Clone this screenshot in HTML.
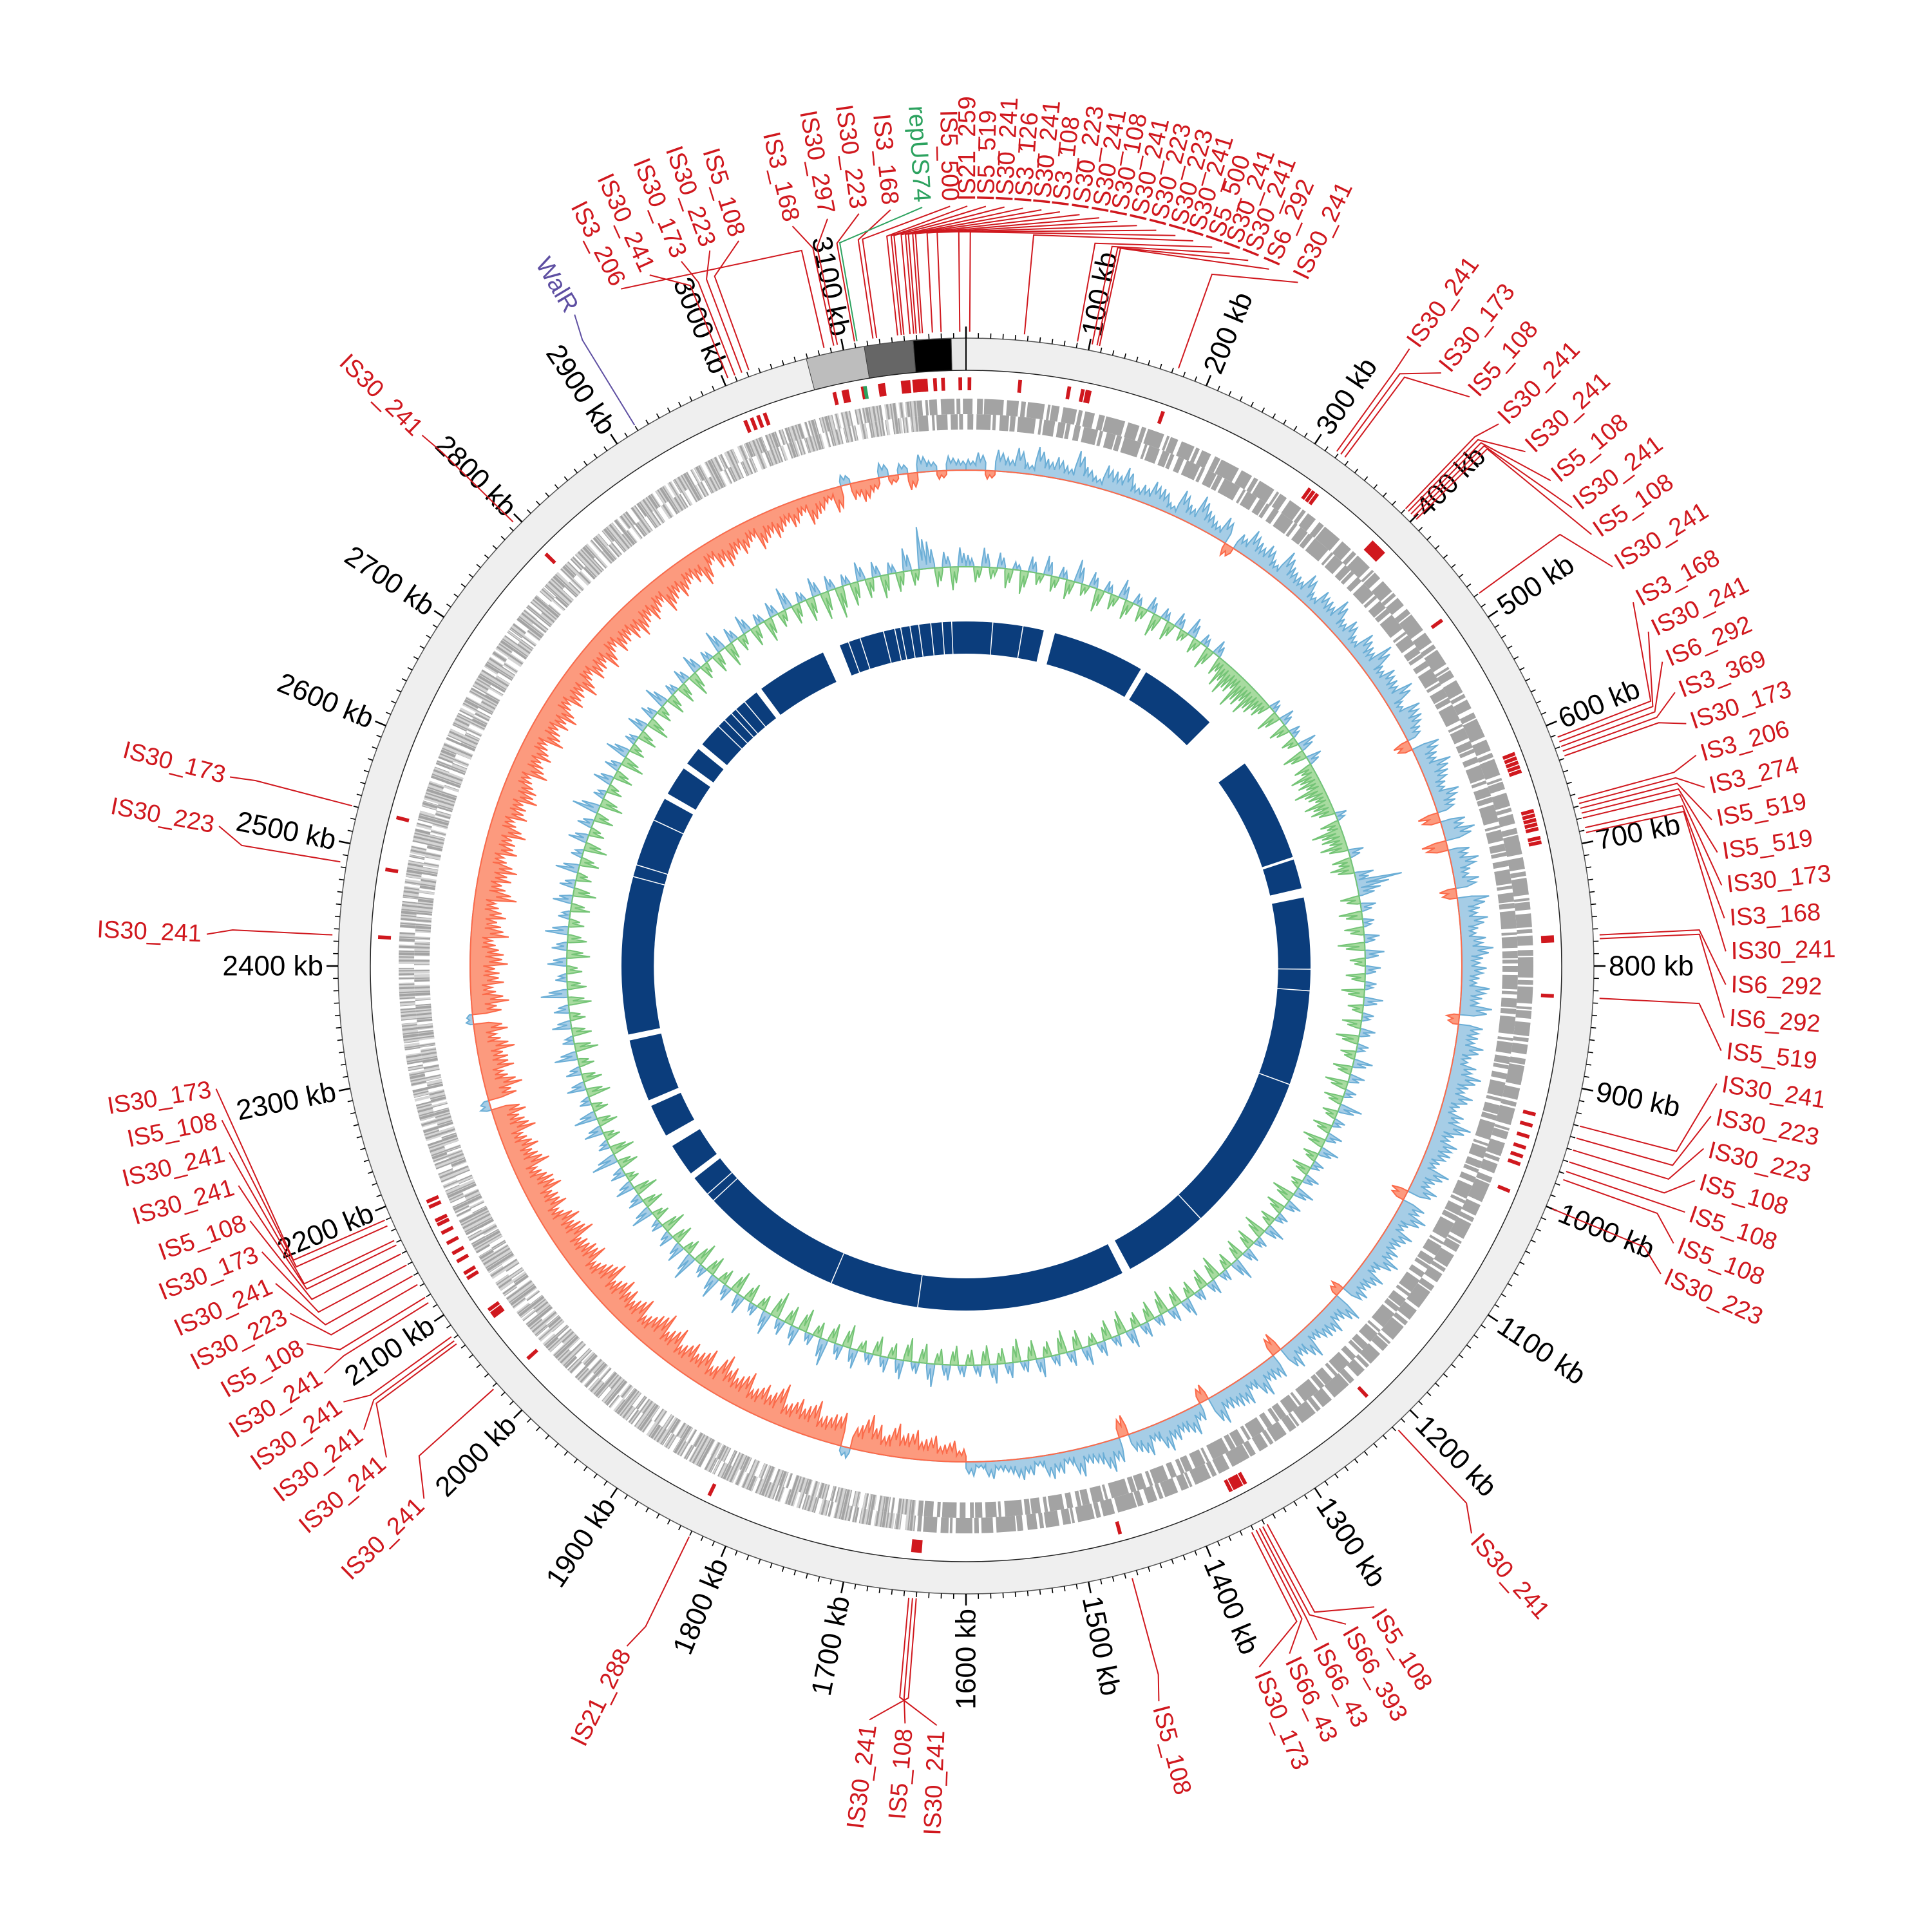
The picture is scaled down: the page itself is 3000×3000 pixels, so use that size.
<!DOCTYPE html>
<html><head><meta charset="utf-8"><title>Circular genome map</title>
<style>
html,body{margin:0;padding:0;background:#fff;}
svg{display:block;font-family:"Liberation Sans",Arial,sans-serif;}
</style></head>
<body>
<svg id="chart" xmlns="http://www.w3.org/2000/svg" width="3000" height="3000" viewBox="0 0 3000 3000">
<rect x="0" y="0" width="3000" height="3000" fill="#ffffff"/>
<g id="g-navy"></g>
<g id="g-gc"></g>
<g id="g-skew"></g>
<g id="g-cds"></g>
<g id="g-is"></g>
<g id="g-ring"></g>
<g id="g-ticks"></g>
<g id="g-labels"></g>
</svg>
<script>
// ---------------- data ----------------
const GENOME_KB = 3200;
const BIN_KB = 10;

const skewValues = [
0.3,0.5,-0.2,0.6,0.4,0.7,0.3,0.8,0.5,0.6,0.4,0.9,0.5,0.3,0.7,0.6,0.8,0.4,0.5,0.7,0.6,0.3,0.8,0.5,0.9,0.6,0.4,0.7,-0.3,0.5,0.8,0.6,0.7,0.4,0.9,0.6,0.5,0.8,0.4,0.7,
0.6,0.9,0.5,0.7,0.4,0.8,0.6,1.0,0.5,0.7,0.6,0.9,0.4,0.8,0.7,0.5,-0.4,0.8,0.6,0.9,0.7,0.5,0.8,0.6,-0.5,0.7,0.9,-0.6,0.6,0.8,0.5,0.7,-0.4,0.9,0.6,0.8,0.5,0.7,0.9,0.6,
0.7,0.5,0.8,0.6,0.9,-0.3,0.7,0.6,0.8,0.5,0.7,0.9,0.6,0.8,0.5,0.7,1.0,0.6,0.8,0.7,0.5,0.9,0.6,0.8,-0.4,0.7,0.9,0.5,0.8,0.6,0.7,0.9,0.5,0.8,0.6,0.7,-0.3,0.9,0.6,0.8,
0.7,0.5,0.9,0.6,0.8,-0.5,0.7,0.6,0.9,0.5,0.8,0.7,0.6,0.9,-0.4,0.5,0.8,0.6,0.7,0.9,0.5,0.8,0.6,-0.5,0.7,0.9,0.6,0.5,0.8,0.4,0.6,0.7,0.3,0.5,0.6,0.4,0.3,0.5,0.2,0.4,
-0.3,-0.5,-0.4,-0.6,-0.5,-0.7,-0.6,-0.8,-0.5,-0.7,-0.9,-0.6,0.3,-0.8,-0.7,-0.6,-0.9,-0.7,-0.8,-0.6,-1.0,-0.7,-0.8,-0.6,-0.9,-0.7,-0.8,-1.0,-0.6,-0.9,-0.7,-0.8,-0.6,-0.9,-0.7,-1.0,-0.8,-0.6,-0.9,-0.7,
-0.8,-0.9,-0.7,-1.0,-0.8,-0.6,-0.9,-0.8,-0.7,-1.0,-0.8,-0.9,-0.6,-0.8,-0.7,-0.9,-0.8,-0.6,-0.9,-0.7,-0.8,-0.6,-0.9,-0.7,-0.8,0.3,-0.7,-0.9,-0.6,-0.8,-0.7,-0.9,-0.6,-0.8,0.2,-0.7,-0.9,-0.6,-0.8,-0.7,
-0.9,-0.8,-0.6,-0.9,-0.7,-0.8,-0.6,-1.0,-0.7,-0.8,-0.9,-0.6,-0.8,-0.7,-0.9,-0.6,-0.8,-0.7,-0.9,-0.8,-0.6,-0.9,-0.7,-0.8,-0.6,-0.9,-0.7,-0.8,-0.9,-0.6,-0.8,-0.7,-0.9,-0.6,-0.8,-0.7,-0.9,-0.6,-0.8,-0.7,
-0.8,-0.9,-0.7,-0.8,-0.6,-0.9,-0.7,-0.8,-0.6,-0.7,-0.9,-0.5,-0.7,-0.8,-0.6,-0.7,-0.5,-0.8,-0.6,-0.7,-0.5,-0.6,-0.4,-0.7,-0.5,-0.3,-0.6,0.3,-0.4,-0.5,-0.3,0.4,-0.2,0.3,-0.4,0.5,0.3,-0.2,0.4,0.3
];

const gcValues = [
0.3,-0.4,0.5,-0.3,0.4,-0.5,0.2,-0.6,0.4,-0.3,0.5,-0.4,0.3,-0.5,0.6,-0.3,0.4,-0.6,0.3,-0.4,0.5,-0.5,0.3,-0.4,0.4,-0.6,0.3,-0.5,0.4,-0.3,0.5,-0.4,0.3,-0.6,0.4,-0.5,-0.7,-0.8,-0.6,-0.9,
-0.7,-0.8,-0.6,-0.5,0.3,-0.6,0.4,-0.5,0.3,-0.4,0.5,-0.6,0.4,-0.5,-0.7,-0.6,-0.8,-0.5,-0.7,-0.6,0.3,-0.5,-0.8,-0.6,-0.7,0.4,-0.5,-0.6,0.5,1.2,0.6,-0.5,0.4,-0.6,0.3,-0.5,0.4,-0.7,0.5,-0.4,
0.4,-0.5,0.3,-0.6,0.5,-0.4,0.3,-0.5,0.4,-0.6,0.3,-0.4,0.5,-0.5,0.4,-0.6,0.3,-0.5,0.6,-0.4,0.3,-0.5,0.4,-0.6,0.5,-0.4,0.3,-0.5,0.4,-0.3,0.5,-0.6,0.4,-0.5,0.3,-0.4,0.5,-0.6,0.3,-0.5,
0.4,-0.5,0.6,-0.4,0.3,-0.6,0.4,-0.5,0.3,-0.4,0.5,-0.5,0.4,-0.6,0.3,-0.5,0.4,-0.4,0.5,-0.6,0.3,-0.5,0.4,-0.3,0.5,-0.5,0.4,-0.6,0.3,-0.4,0.5,-0.5,0.3,-0.6,0.4,-0.4,0.5,-0.5,0.3,-0.4,
0.3,-0.5,0.4,-0.4,0.6,-0.5,0.3,-0.6,0.5,-0.4,0.4,-0.5,0.3,-0.3,0.5,-0.6,0.4,-0.5,0.7,-0.4,0.3,-0.6,0.5,-0.5,0.4,-0.7,0.6,-0.4,0.3,-0.5,0.5,-0.6,0.4,-0.4,0.6,-0.5,0.3,-0.6,0.7,-0.4,
0.5,-0.5,0.4,-0.6,0.3,-0.4,0.6,-0.5,0.4,-0.6,0.5,-0.3,0.4,-0.5,0.7,-0.6,0.3,-0.4,0.5,-0.5,0.6,-0.4,0.3,-0.6,0.5,-0.5,0.4,-0.4,0.6,-0.6,0.3,-0.5,0.5,-0.4,0.4,-0.6,0.7,-0.5,0.3,-0.4,
0.5,-0.6,0.4,-0.5,0.6,-0.4,0.3,-0.5,0.5,-0.6,0.4,-0.4,0.6,-0.5,0.3,-0.6,0.5,-0.4,0.4,-0.5,0.7,-0.6,0.3,-0.4,0.5,-0.5,0.4,-0.6,0.6,-0.4,0.3,-0.5,0.5,-0.6,0.4,-0.4,0.6,-0.5,0.3,-0.5,
0.4,-0.6,0.5,-0.4,0.3,-0.5,0.6,-0.6,0.4,-0.4,0.5,-0.5,0.3,-0.6,0.4,-0.4,0.6,-0.5,0.3,-0.6,0.5,-0.7,0.4,-0.8,0.3,-0.6,0.5,-0.5,0.4,-0.6,0.3,-0.5,0.6,-0.4,1.1,0.7,-0.5,0.4,-0.6,0.5
];

// homology track: gaps (kb start / end)
const gapStartKb = [116,271,400,636,684,1347,2062,2120,2187,2289,2658,2711,2747,2867,2982,
  39,84,804,836,978,1218,1671,1804,2018,2031,2533,2551,2622,2791,2804,2818,2827,2844,3022,3040,3076,3093,3102,3116,3129,3147,3164,3178];
const gapEndKb = [133,280,480,640,698,1360,2071,2138,2196,2298,2667,2720,2756,2876,3009,
  40.5,85.5,805.5,837.5,979.5,1219.5,1672.5,1805.5,2019.5,2032.5,2534.5,2552.5,2623.5,2792.5,2805.5,2819.5,2828.5,2845.5,3023.5,3041.5,3077.5,3094.5,3103.5,3117.5,3130.5,3148.5,3165.5,3179.5];

// backbone ring segments near origin
const segStartKb = [3069,3117,3157,3188];
const segEndKb = [3117,3157,3188,3200];
const segColors = ['#bdbdbd','#666666','#000000','#e6e6e6'];

// tick labels
const tickLabelKb = [100,200,300,400,500,600,700,800,900,1000,1100,1200,1300,1400,1500,1600,1700,1800,1900,2000,2100,2200,2300,2400,2500,2600,2700,2800,2900,3000,3100];

// IS element labels
const isNames = [
'IS3_206','IS30_241','IS30_173','IS30_223','IS5_108','IS3_168','IS30_297','IS30_223','IS3_168','repUS74','IS5_500',
'IS21_259','IS5_519','IS30_241','IS3_126','IS30_241','IS3_108','IS30_223','IS30_241','IS30_108','IS30_241','IS30_223','IS30_223','IS30_241','IS5_500','IS30_241','IS30_241','IS6_292','IS30_241',
'IS30_241','IS30_173','IS5_108','IS30_241','IS30_241','IS5_108','IS30_241','IS5_108','IS30_241',
'IS3_168','IS30_241','IS6_292','IS3_369','IS30_173','IS3_206','IS3_274','IS5_519','IS5_519','IS30_173','IS3_168','IS30_241','IS6_292','IS6_292','IS5_519','IS30_241','IS30_223','IS30_223','IS5_108','IS5_108','IS5_108','IS30_223',
'IS30_241','IS5_108','IS66_393','IS66_43','IS66_43','IS30_173','IS5_108','IS30_241','IS5_108','IS30_241','IS21_288','IS30_241',
'IS30_241','IS30_241','IS30_241','IS30_241','IS5_108','IS30_223','IS30_241','IS30_173','IS5_108','IS30_241','IS30_241','IS5_108','IS30_173',
'IS30_241','IS30_223','IS30_173','IS30_241','WalR'];
const isFeatureKb = [
3085,3004,3010,3016,3022,3093,3096,3110,3125,3112,3128,
3145,3148,3150,3155,3158,3160,3163,3165,3173,3180,3195,3,47,90,102,106,108,174,
318,322,326,390,393,396,399,402,480,
612,616,620,624,628,664,668,672,676,680,688,692,775,778,826,930,940,950,960,968,975,1000,
1218,1348,1352,1355,1358,1362,1465,1646,1643,1640,1830,2028,
2075,2078,2082,2115,2120,2132,2140,2150,2160,2168,2172,2185,2190,
2425,2484,2530,2795,2920];
const isKind = [
'is','is','is','is','is','is','is','is','is','rep','is',
'is','is','is','is','is','is','is','is','is','is','is','is','is','is','is','is','is','is',
'is','is','is','is','is','is','is','is','is',
'is','is','is','is','is','is','is','is','is','is','is','is','is','is','is','is','is','is','is','is','is','is',
'is','is','is','is','is','is','is','is','is','is','is','is',
'is','is','is','is','is','is','is','is','is','is','is','is','is',
'is','is','is','is','gene'];
// label layout angles (degrees, clockwise from top)
const labelAngleDeg = [
333.0,335.4,338.0,340.3,342.6,346.8,349.5,351.9,354.3,356.7,358.8,
0.1,1.5,2.9,4.3,5.7,7.1,8.6,10.1,11.5,13.0,14.5,16.0,17.4,18.9,20.3,21.8,23.5,25.9,
35.7,38.7,41.5,44.5,47.4,50.3,52.9,55.4,58.3,
61.4,63.9,66.4,68.9,71.4,73.9,76.4,78.9,81.4,83.9,86.4,88.9,91.4,93.9,96.4,98.9,101.4,103.9,106.4,108.9,111.4,113.9,
138.3,147.5,150.0,152.5,154.8,157.3,165.3,182.2,184.6,187.3,206.5,225.5,
229.7,232.4,235.0,237.6,240.2,242.8,245.3,247.9,250.4,253.2,255.8,258.3,260.7,
272.4,280.6,284.4,314.3,329.0];

// ---------------- geometry ----------------
const NS = 'http://www.w3.org/2000/svg';
const CX = 1500, CY = 1500;
const R_RING_OUT = 975, R_RING_IN = 925;
const R_IS_OUT = 914, R_IS_IN = 894;
const R_SKEW = 770, SKEW_POS = 55, SKEW_NEG = 65;
const R_GC = 620, GC_SCALE = 60;
const R_NAVY_OUT = 535, R_NAVY_IN = 485;

function kbToDeg(kb){ return kb / GENOME_KB * 360; }
function pt(r, deg){ const a = deg*Math.PI/180; return [CX + r*Math.sin(a), CY - r*Math.cos(a)]; }
function f(p){ return p[0].toFixed(2)+','+p[1].toFixed(2); }
function sector(r0, r1, a0, a1){
  const large = (a1 - a0) > 180 ? 1 : 0;
  return 'M'+f(pt(r1,a0))+' A'+r1+','+r1+' 0 '+large+' 1 '+f(pt(r1,a1))+
         ' L'+f(pt(r0,a1))+' A'+r0+','+r0+' 0 '+large+' 0 '+f(pt(r0,a0))+' Z';
}
function mk(tag, attrs, parent){
  const e = document.createElementNS(NS, tag);
  for (const k in attrs) e.setAttribute(k, attrs[k]);
  parent.appendChild(e);
  return e;
}
const gNavy = document.getElementById('g-navy');
const gGc = document.getElementById('g-gc');
const gSkew = document.getElementById('g-skew');
const gCds = document.getElementById('g-cds');
const gIs = document.getElementById('g-is');
const gRing = document.getElementById('g-ring');
const gTicks = document.getElementById('g-ticks');
const gLabels = document.getElementById('g-labels');

// ---------------- homology ring ----------------
{
  const base = mk('path', {d: sector(R_NAVY_IN, R_NAVY_OUT, 0, 180) + ' ' + sector(R_NAVY_IN, R_NAVY_OUT, 180, 360), fill:'#0b3d7c'}, gNavy);
  
  
  for (let i = 0; i < gapStartKb.length; i++){
    const g = mk('path', {d: sector(R_NAVY_IN-2, R_NAVY_OUT+2, kbToDeg(gapStartKb[i]), kbToDeg(gapEndKb[i])), fill:'#ffffff'}, gNavy);
    
    
  }
}

// ---------------- signal tracks ----------------
// each bin drawn as a spiky profile: fractions of the bin value across the bin
const SKEW_PROFILE = [[0,0.45],[0.22,1.0],[0.45,0.5],[0.7,0.85],[1,0.45]];
const GC_PROFILE = [[0,0.15],[0.25,1.0],[0.5,0.2],[0.72,0.7],[1,0.15]];
function signalPath(values, base, scale, sign, profile){
  let d = 'M' + f(pt(base, 0));
  const n = values.length;
  for (let i = 0; i < n; i++){
    let v = values[i];
    v = sign > 0 ? Math.max(v, 0) : Math.min(v, 0);
    for (const pr of profile){
      const deg = kbToDeg((i + pr[0]) * BIN_KB);
      d += ' L' + f(pt(base + v*pr[1]*scale, deg));
    }
  }
  d += ' L' + f(pt(base, 360));
  for (let i = n; i >= 0; i--){
    d += ' L' + f(pt(base, kbToDeg(i * BIN_KB)));
  }
  return d + ' Z';
}
{
  const p1 = mk('path', {d: signalPath(gcValues, R_GC, GC_SCALE, 1, GC_PROFILE), fill:'#a6cde6', stroke:'#6baed6', 'stroke-width':2}, gGc);
  
  
  const p2 = mk('path', {d: signalPath(gcValues, R_GC, GC_SCALE, -1, GC_PROFILE), fill:'#a8dba0', stroke:'#74c476', 'stroke-width':2}, gGc);
  
  
  const s1 = mk('path', {d: signalPath(skewValues, R_SKEW, SKEW_POS, 1, SKEW_PROFILE), fill:'#a6cde6', stroke:'#6baed6', 'stroke-width':2}, gSkew);
  
  
  const s2 = mk('path', {d: signalPath(skewValues, R_SKEW, SKEW_NEG, -1, SKEW_PROFILE), fill:'#fc9a7e', stroke:'#fb6a4a', 'stroke-width':2}, gSkew);
  
  
}

// ---------------- CDS rings ----------------
{
  const fwd = mk('circle', {cx:CX, cy:CY, r:869, fill:'none', stroke:'#a3a3a3', 'stroke-width':24,
    'stroke-dasharray':'18 4 7 3 26 5 4 2 12 6 21 3 6 4 15 7 9 2 30 5'}, gCds);
  
  
  const rev = mk('circle', {cx:CX, cy:CY, r:845, fill:'none', stroke:'#a3a3a3', 'stroke-width':24,
    'stroke-dasharray':'9 5 22 3 5 6 14 2 8 4 27 6 4 3 17 5 11 2 6 7'}, gCds);
  
  
  const lp0 = pt(857, 185), lp1 = pt(857, 355);
  const light = mk('path', {d:'M'+f(lp0)+' A857,857 0 0 1 '+f(lp1), fill:'none', stroke:'#ffffff', 'stroke-width':48, 'stroke-opacity':0.55,
    'stroke-dasharray':'3 2 2 4 1 2 4 3'}, gCds);
  
  
}

// ---------------- backbone ring ----------------
{
  const ring = mk('path', {d: sector(R_RING_IN, R_RING_OUT, 0, 180) + ' ' + sector(R_RING_IN, R_RING_OUT, 180, 360), fill:'#efefef'}, gRing);
  
  
  for (let i = 0; i < segStartKb.length; i++){
    const s = mk('path', {d: sector(R_RING_IN, R_RING_OUT, kbToDeg(segStartKb[i]), kbToDeg(segEndKb[i])), fill: segColors[i], stroke:'#444', 'stroke-width':1}, gRing);
    
    
  }
  const oc = mk('circle', {cx:CX, cy:CY, r:R_RING_OUT, fill:'none', stroke:'#555', 'stroke-width':1.5}, gRing);
  
  
  const ic = mk('circle', {cx:CX, cy:CY, r:R_RING_IN, fill:'none', stroke:'#222', 'stroke-width':1.5}, gRing);
  
  
  const o = mk('line', {x1:pt(R_RING_IN,0)[0], y1:pt(R_RING_IN,0)[1], x2:pt(R_RING_OUT,0)[0], y2:pt(R_RING_OUT,0)[1], stroke:'#000', 'stroke-width':2}, gRing);
  
  
}

// ---------------- ticks ----------------
for (let kb = 0; kb < GENOME_KB; kb += 10){
  const major = (kb % 100 === 0);
  const deg = kbToDeg(kb);
  const a = pt(R_RING_OUT, deg), b = pt(R_RING_OUT + (major ? 18 : 8), deg);
  const t = mk('line', {x1:a[0].toFixed(2), y1:a[1].toFixed(2), x2:b[0].toFixed(2), y2:b[1].toFixed(2), stroke:'#000', 'stroke-width': major ? 2.5 : 1.6}, gTicks);
  
  
}
for (let i = 0; i < tickLabelKb.length; i++){
  const deg = kbToDeg(tickLabelKb[i]);
  const p = pt(998, deg);
  const right = deg < 180;
  const rot = right ? deg - 90 : deg + 90;
  const tx = mk('text', {transform:'translate('+p[0].toFixed(2)+','+p[1].toFixed(2)+') rotate('+rot.toFixed(2)+')',
    'text-anchor': right ? 'start' : 'end', 'dominant-baseline':'central', 'font-size':44, fill:'#000'}, gTicks);
  tx.textContent = tickLabelKb[i] + ' kb';
  
  
}

// ---------------- IS features + labels ----------------
const KIND_COLOR = {is:'#d0181e', rep:'#2ca25f', gene:'#5e4fa2'};
for (let i = 0; i < isFeatureKb.length; i++){
  const col = KIND_COLOR[isKind[i]];
  const fd = kbToDeg(isFeatureKb[i]);
  if (isKind[i] !== 'gene'){
    const m = mk('path', {d: sector(R_IS_IN, R_IS_OUT, fd - 0.18, fd + 0.18), fill: col}, gIs);
    
    
  }
  const ld = labelAngleDeg[i];
  const p0 = pt(985, fd), p1 = pt(1140, fd), p2 = pt(1180, ld);
  const ln = mk('polyline', {points: f(p0)+' '+f(p1)+' '+f(p2), fill:'none', stroke: col, 'stroke-width':2}, gLabels);
  
  
  const ldn = ((ld % 360) + 360) % 360;
  const right = ldn < 180;
  const p = pt(1188, ldn);
  const rot = right ? ldn - 90 : ldn + 90;
  const tx = mk('text', {transform:'translate('+p[0].toFixed(2)+','+p[1].toFixed(2)+') rotate('+rot.toFixed(2)+')',
    'text-anchor': right ? 'start' : 'end', 'dominant-baseline':'central', 'font-size':38, fill: col}, gLabels);
  tx.textContent = isNames[i];
  
  
}
</script>
</body></html>
